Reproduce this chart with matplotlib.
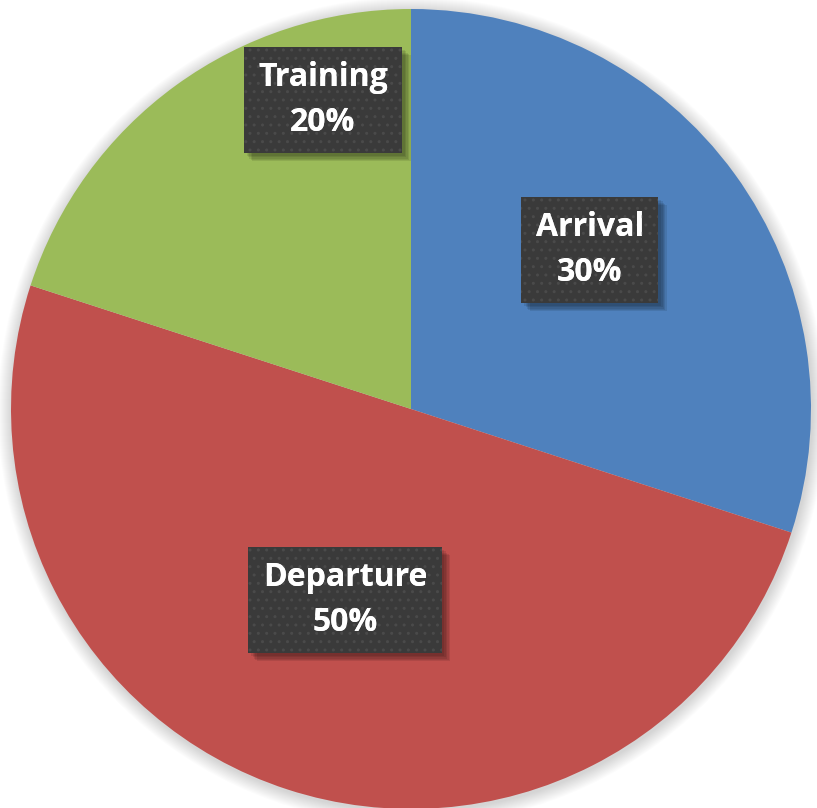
import matplotlib
matplotlib.use("Agg")
import matplotlib.pyplot as plt
import matplotlib.patheffects as pe
from matplotlib.patches import Circle

labels = ["Arrival", "Departure", "Training"]
shares = [30, 50, 20]
colors = ["#4F81BD", "#C0504D", "#9BBB59"]
# label box centres in pixels (x from left, y from top)
label_pos = [(590, 250), (345, 600), (323, 100)]

W, H = 817, 808
cx, cy, r = 411, H - 409, 400

fig = plt.figure(figsize=(W / 100, H / 100), dpi=100)
ax = fig.add_axes([0, 0, 1, 1])

# soft shadow round the pie
for i in range(14):
    ax.add_patch(Circle((cx + 1, cy - 2), r + 14 - i, facecolor="k",
                        edgecolor="none", alpha=0.010, zorder=0))

ax.pie(shares, colors=colors, startangle=90, counterclock=False,
       center=(cx, cy), radius=r, wedgeprops=dict(linewidth=0),
       frame=True)
ax.set_xlim(0, W)
ax.set_ylim(0, H)
ax.set_aspect("equal")
ax.axis("off")

plt.rcParams["hatch.linewidth"] = 1.0
shadow = [pe.SimplePatchShadow(offset=(d, -d), shadow_rgbFace="k", alpha=0.09)
          for d in (2, 3, 4, 5, 6)]
style = dict(ha="center", va="center", color="white", fontsize=23,
             fontweight="bold", family="Open Sans", linespacing=1.45)
for lab, val, (px, py) in zip(labels, shares, label_pos):
    txt = f"{lab}\n{val}%"
    t = ax.text(px, H - py, txt, zorder=5, **style,
                bbox=dict(boxstyle="square,pad=0.45", facecolor="#3a3a3a",
                          edgecolor="none", linewidth=0))
    t.get_bbox_patch().set_path_effects(shadow + [pe.Normal()])
    # dotted texture on top of the box
    ax.text(px, H - py, txt, zorder=6, **style,
            bbox=dict(boxstyle="square,pad=0.45", facecolor="none",
                      edgecolor="#4a4a4a", linewidth=0, hatch=".."))

fig.savefig("out.png", dpi=100)
